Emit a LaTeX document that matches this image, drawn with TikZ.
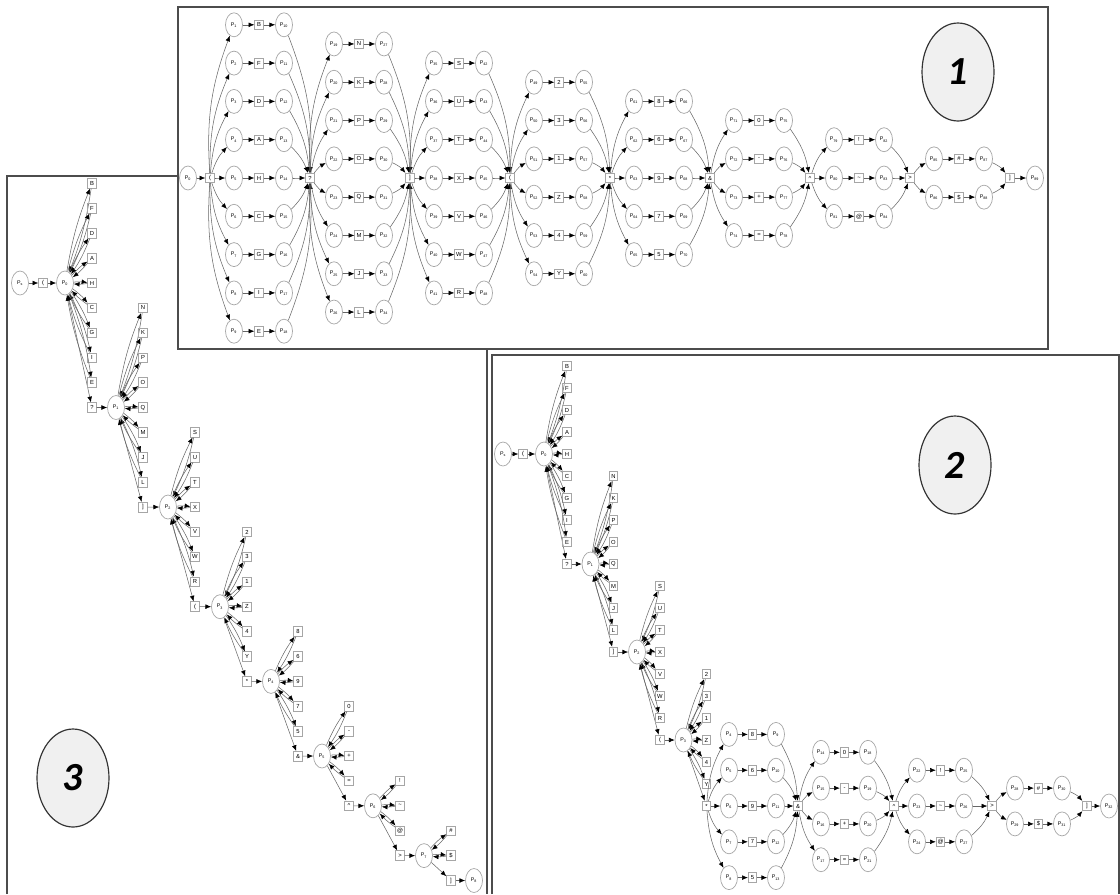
\documentclass[tikz,border=0pt]{standalone}
\usepackage{fontspec}
\setmainfont{Liberation Sans}
\newfontfamily\tagfont{Carlito}
\usetikzlibrary{arrows.meta,shapes.geometric}

\tikzset{
  place/.style={ellipse,draw=black!35,line width=0.6pt,minimum width=5.1mm,minimum height=7.2mm,inner sep=0pt,font=\fontsize{4.5}{5}\selectfont},
  trans/.style={rectangle,draw=black!35,line width=0.6pt,minimum width=2.6mm,minimum height=2.9mm,inner sep=0pt,font=\fontsize{5}{5}\selectfont},
  arc/.style={draw=black!60,line width=0.45pt,-{Latex[length=1.7mm,width=1.4mm,color=black]}},
  tag/.style={ellipse,draw=black!80,fill=black!6,line width=1pt,minimum width=21.6mm,minimum height=29.4mm,inner sep=0pt,font=\tagfont\fontsize{34}{34}\selectfont\bfseries\itshape},
  frame/.style={draw=black!70,line width=1.2pt}
}

\begin{document}
\begin{tikzpicture}[x=0.3mm,y=-0.3mm]
\useasboundingbox (0,0) rectangle (1120,894);

% frames: 3 (left) and 2 (bottom right), then 1 on top
\draw[frame] (7,894) -- (7,176) -- (487,176) -- (487,894);
\draw[frame] (492,894) -- (492,355) -- (1119,355) -- (1119,894);
\draw[frame,fill=white] (178,7) rectangle (1048,349);

% ---- net 1: every branch unfolded
\node[place] (a0) at (188,178) {P\textsubscript{0}};
\foreach \k/\lab in {0/{(},1/?,2/],3/{(},4/*,5/\&,6/\textasciicircum,7/>,8/]}
  \node[trans] (aj\k) at (210+100*\k,178) {\lab};
\node[place] (a89) at (1035,178) {P\textsubscript{89}};
\draw[arc] (a0) -- (aj0);
\draw[arc] (aj8) -- (a89);

\foreach \k/\n/\f/\syms in {0/9/1/{B,F,D,A,H,C,G,I,E},1/8/19/{N,K,P,O,Q,M,J,L},2/7/35/{S,U,T,X,V,W,R},3/6/49/{2,3,1,Z,4,Y},4/5/61/{8,6,9,7,5},5/4/71/{0,-,+,=},6/3/79/{!,\textasciitilde,@},7/2/85/{\#,\$}}{
  \pgfmathtruncatemacro{\nk}{\k+1}
  \foreach \s [count=\i] in \syms {
    \pgfmathsetmacro{\yy}{178+(\i-(\n+1)/2)*38.3}
    \pgfmathtruncatemacro{\pa}{\f+\i-1}
    \pgfmathtruncatemacro{\pb}{\f+\n+\i-1}
    \pgfmathsetmacro{\bb}{-12*sign(\i-(\n+1)/2)}
    \node[place] (a\pa) at (234+100*\k,\yy) {P\textsubscript{\pa}};
    \node[trans] (ta\pa) at (259+100*\k,\yy) {\s};
    \node[place] (a\pb) at (284+100*\k,\yy) {P\textsubscript{\pb}};
    \draw[arc] (aj\k) to[bend left=\bb] (a\pa);
    \draw[arc] (a\pa) -- (ta\pa);
    \draw[arc] (ta\pa) -- (a\pb);
    \draw[arc] (a\pb) to[bend left=\bb] (aj\nk);
  }
}

% ---- net 2: loops first, then the last four stages unfolded
\node[place] (bs) at (503,454) {P\textsubscript{s}};
\node[trans] (bj) at (523,454) {(};
\draw[arc] (bs) -- (bj);
\foreach \k/\x/\y/\n/\ex/\exname/\syms in {0/544/454/9/?/bx0/{B,F,D,A,H,C,G,I,E},1/590.5/564/8/]/bx1/{N,K,P,O,Q,M,J,L},2/637/652/7/{(}/bx2/{S,U,T,X,V,W,R},3/683.5/740/6/*/bq0/{2,3,1,Z,4,Y}}{
  \node[place] (b\k) at (\x,\y) {P\textsubscript{\k}};
  \pgfmathsetmacro{\yx}{\y+(\n-floor(\n/2))*22}
  \node[trans] (\exname) at (\x+23,\yx) {\ex};
  \draw[arc] (b\k) -- (\exname);
  \foreach \s [count=\i] in \syms {
    \pgfmathsetmacro{\yy}{\y+(\i-1-floor(\n/2))*22}
    \node[trans] (bf\k-\i) at (\x+23,\yy) {\s};
    \draw[arc] (b\k) to[bend left=6] (bf\k-\i);
    \draw[arc] (bf\k-\i) to[bend left=6] (b\k);
  }
}
\draw[arc] (bj) -- (b0);
\draw[arc] (bx0) -- (b1);
\draw[arc] (bx1) -- (b2);
\draw[arc] (bx2) -- (b3);

\foreach \k/\jx/\lab in {1/798/\&,2/894/\textasciicircum,3/992/>,4/1087/]}
  \node[trans] (bq\k) at (\jx,806) {\lab};
\node[place] (b32) at (1109,806) {P\textsubscript{32}};
\draw[arc] (bq4) -- (b32);

\foreach \k/\jx/\n/\f/\syms in {0/706/5/4/{8,6,9,7,5},1/798/4/14/{0,-,+,=},2/894/3/22/{!,\textasciitilde,@},3/992/2/28/{\#,\$}}{
  \pgfmathtruncatemacro{\nk}{\k+1}
  \foreach \s [count=\i] in \syms {
    \pgfmathsetmacro{\yy}{806+(\i-(\n+1)/2)*35.8}
    \pgfmathtruncatemacro{\pa}{\f+\i-1}
    \pgfmathtruncatemacro{\pb}{\f+\n+\i-1}
    \pgfmathsetmacro{\bb}{-12*sign(\i-(\n+1)/2)}
    \node[place] (b\pa) at (\jx+23,\yy) {P\textsubscript{\pa}};
    \node[trans] (tb\pa) at (\jx+46.5,\yy) {\s};
    \node[place] (b\pb) at (\jx+70,\yy) {P\textsubscript{\pb}};
    \draw[arc] (bq\k) to[bend left=\bb] (b\pa);
    \draw[arc] (b\pa) -- (tb\pa);
    \draw[arc] (tb\pa) -- (b\pb);
    \draw[arc] (b\pb) to[bend left=\bb] (bq\nk);
  }
}

% ---- net 3: one place per stage, symbols loop back
\node[place] (cs) at (20,283) {P\textsubscript{s}};
\node[trans] (cj) at (43,283) {(};
\draw[arc] (cs) -- (cj);
\foreach \k/\x/\y/\n/\ex/\syms in {0/65/283/9/?/{B,F,D,A,H,C,G,I,E},1/116/407.5/8/]/{N,K,P,O,Q,M,J,L},2/168/507/7/{(}/{S,U,T,X,V,W,R},3/220/606.7/6/*/{2,3,1,Z,4,Y},4/271/681.4/5/\&/{8,6,9,7,5},5/322/756/4/\textasciicircum/{0,-,+,=},6/373/805.8/3/>/{!,\textasciitilde,@},7/424/855.6/2/]/{\#,\$}}{
  \node[place] (c\k) at (\x,\y) {P\textsubscript{\k}};
  \pgfmathsetmacro{\yx}{\y+(\n-floor(\n/2))*24.9}
  \node[trans] (cx\k) at (\x+27,\yx) {\ex};
  \draw[arc] (c\k) -- (cx\k);
  \foreach \s [count=\i] in \syms {
    \pgfmathsetmacro{\yy}{\y+(\i-1-floor(\n/2))*24.9}
    \node[trans] (cf\k-\i) at (\x+27,\yy) {\s};
    \draw[arc] (c\k) to[bend left=6] (cf\k-\i);
    \draw[arc] (cf\k-\i) to[bend left=6] (c\k);
  }
}
\node[place] (c8) at (474,880.5) {P\textsubscript{8}};
\draw[arc] (cj) -- (c0);
\foreach \k [evaluate=\k as \nk using int(\k+1)] in {0,...,7}
  \draw[arc] (cx\k) -- (c\nk);

% panel numbers
\node[tag] (one) at (958,72) {1};
\node[tag] (two) at (955,465) {2};
\node[tag] (three) at (73,778) {3};

\end{tikzpicture}
\end{document}
